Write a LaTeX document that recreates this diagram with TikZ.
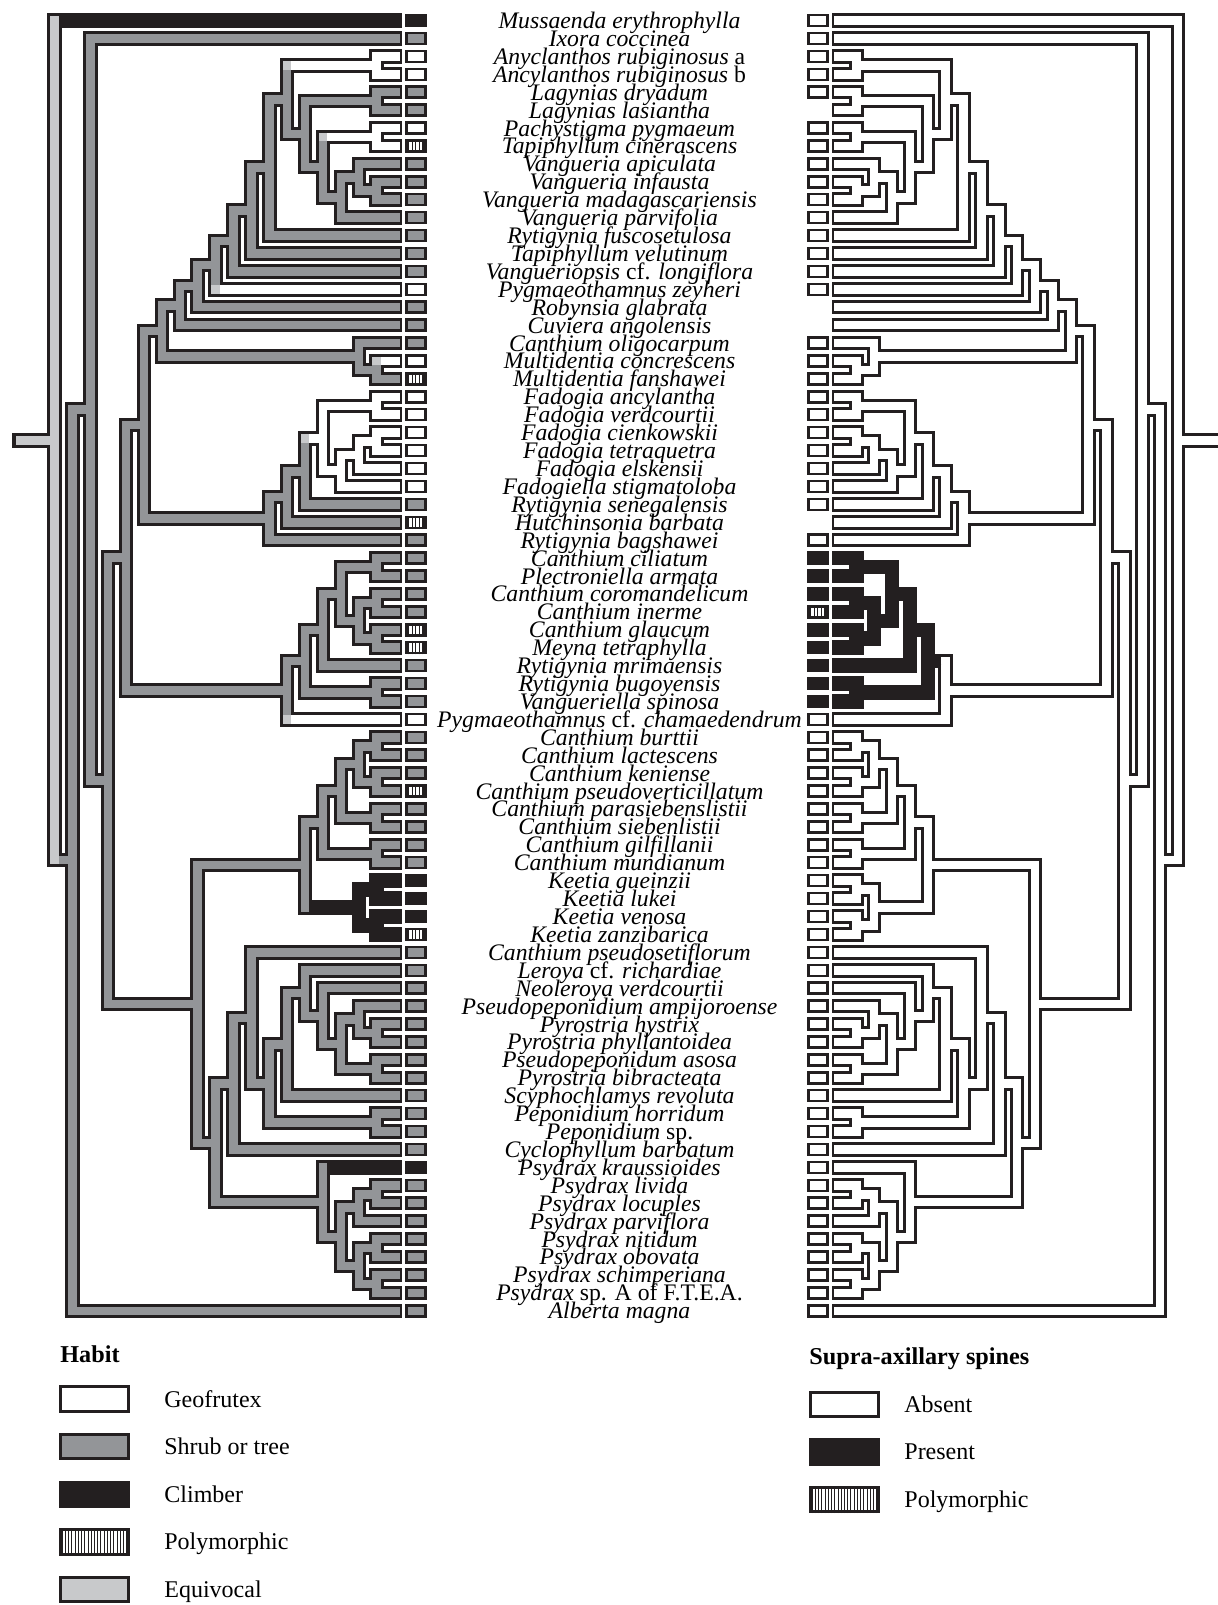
\documentclass[tikz,border=0pt]{standalone}
\usepackage{fontspec}
\setmainfont{Liberation Serif}
\usetikzlibrary{calc}

\definecolor{shrub}{RGB}{147,149,152}
\definecolor{equiv}{RGB}{200,201,203}
\definecolor{climb}{RGB}{35,31,32}

% character state of a branch: habit (left) and spines (right)
\newcommand\lcol[1]{\ifcsname lc@#1\endcsname\csname lc@#1\endcsname\else shrub\fi}
\newcommand\rcol[1]{\ifcsname rc@#1\endcsname\csname rc@#1\endcsname\else white\fi}

% node/level/upper child/lower child, children first
\def\cladelist{c23/18/t2/t3,c45/18/t4/t5,c67/18/t6/t7,c910/18/t9/t10,
  c1920/18/t19/t20,c2122/18/t21/t22,c2324/18/t23/t24,c3031/18/t30/t31,
  c3233/18/t32/t33,c3435/18/t34/t35,c3738/18/t37/t38,c4041/18/t40/t41,
  c4243/18/t42/t43,c4445/18/t44/t45,c4647/18/t46/t47,c4849/18/t48/t49,
  c5051/18/t50/t51,c5657/18/t56/t57,c5859/18/t58/t59,c6162/18/t61/t62,
  c6566/18/t65/t66,c6869/18/t68/t69,c7071/18/t70/t71,
  v17/17/t8/c910,v16/16/v17/t11,v15/15/c67/v16,v14/14/c45/v15,v13/13/c23/v14,
  v12/12/v13/t12,v11/11/v12/t13,v10/10/v11/t14,v9/9/v10/t15,v8/8/v9/t16,
  v7/7/v8/t17,m17/17/t18/c1920,v6/6/v7/m17,
  f17/17/c2324/t25,f16/16/f17/t26,f15/15/c2122/f16,f14/14/f15/t27,
  f13/13/f14/t28,f12/12/f13/t29,v5/5/v6/f12,
  s4/17/c3233/c3435,s3/16/c3031/s4,s2/15/s3/t36,s1/14/s2/c3738,s0/13/s1/t39,
  v4/4/v5/s0,
  c17/17/c4041/c4243,c16/16/c17/c4445,c15/15/c16/c4647,k17/17/c4849/c5051,
  b1/14/c15/k17,
  u17/17/t55/c5657,u16/16/u17/c5859,w15/15/t54/u16,z14/14/t53/w15,
  y13/13/z14/t60,x12/12/y13/c6162,k11/11/t52/x12,k10/10/k11/t63,
  p17a/17/c6566/t67,p17b/17/c6869/c7071,p16/16/p17a/p17b,p15/15/t64/p16,
  b2/9/k10/p15,b/8/b1/b2,v3/3/v4/b,v2/2/t1/v3,v1/1/v2/t72,v0/0/t0/v1}

\tikzset{
  outline/.style={draw=climb,line width=7.25pt,line join=miter},
  vband/.style={line width=4.25pt,line cap=rect},
  hband/.style={line width=4.25pt,shorten <=2.125pt,shorten >=1pt},
  eqpatch/.style={fill=equiv,minimum size=4.25pt,inner sep=0pt,outer sep=0pt},
  tipbox/.style={draw=climb,line width=1.25pt,minimum width=9.5pt,minimum height=5.5pt,inner sep=0pt},
  stripe/.style={draw=climb,line width=0.6pt},
  taxon/.style={font=\fontsize{11.85}{12}\selectfont\itshape,anchor=base,inner sep=0pt},
  head/.style={font=\fontsize{12.1}{13}\selectfont\bfseries,anchor=base west,inner sep=0pt},
  legbox/.style={draw=climb,line width=1.5pt,minimum width=34pt,minimum height=12.25pt,inner sep=0pt},
  legtext/.style={font=\fontsize{12}{14}\selectfont,anchor=base west,inner sep=0pt}
}

\begin{document}
\begin{tikzpicture}[x=0.5pt,y=-0.5pt]
  \useasboundingbox (0,0) rectangle (1217,1605);
  % States that differ from the default
  \foreach \nm in {t0,t48,t49,t50,t51,t64,k17,c4849,c5051}
    {\expandafter\xdef\csname lc@\nm\endcsname{climb}}
  \foreach \nm in {t2,t3,c23,t6,t7,c67,t15,t19,t21,t22,t23,t24,t25,t26,c2122,c2324,f15,f16,f17,t39}
    {\expandafter\xdef\csname lc@\nm\endcsname{white}}
  \expandafter\xdef\csname lc@v0\endcsname{equiv}
  \foreach \nm in {t30,t31,t32,t33,t34,t35,t36,t37,t38,c3031,c3233,c3435,c3738,s1,s2,s3,s4}
    {\expandafter\xdef\csname rc@\nm\endcsname{climb}}
  % Levels and tips
  \foreach \lv in {0,...,18} {
    \coordinate (lk\lv) at ({54.5+17.9*\lv},0);
    \coordinate (rk\lv) at ({1178-17.87*\lv},0);
  }
  \foreach \i in {0,...,72} {
    \coordinate (t\i) at (0,{20.5+17.92*\i});
    \coordinate (Lt\i) at (402,{20.5+17.92*\i});
    \coordinate (Rt\i) at (832,{20.5+17.92*\i});
  }
  % Internal nodes
  \foreach \nd/\lv/\ca/\cb in \cladelist {
    \coordinate (\nd) at ($(\ca)!0.5!(\cb)$);
    \coordinate (L\nd) at (lk\lv |- \nd);
    \coordinate (R\nd) at (rk\lv |- \nd);
  }
  \coordinate (lstub) at ($(Lv0)+(-42.5,0)$);
  \coordinate (rstub) at ($(Rv0)+(45,0)$);
  % Branch outlines
  \foreach \nd/\lv/\ca/\cb in \cladelist {
    \draw[outline] (L\ca) -| (L\nd) |- (L\cb);
    \draw[outline] (R\ca) -| (R\nd) |- (R\cb);
  }
  \draw[outline] (lstub) -- (Lv0);
  \draw[outline] (Rv0) -- (rstub);
  % Branch fills
  \foreach \nd/\lv/\ca/\cb in \cladelist {
    \edef\cn{\lcol{\nd}}\edef\cx{\lcol{\ca}}\edef\cy{\lcol{\cb}}
    \draw[vband,draw=\cn] (L\nd |- L\ca) -- (L\nd |- L\cb);
    \draw[hband,draw=\cx] (L\nd |- L\ca) -- (L\ca);
    \draw[hband,draw=\cy] (L\nd |- L\cb) -- (L\cb);
    \edef\cn{\rcol{\nd}}\edef\cx{\rcol{\ca}}\edef\cy{\rcol{\cb}}
    \draw[vband,draw=\cn] (R\nd |- R\ca) -- (R\nd |- R\cb);
    \draw[hband,draw=\cx] (R\nd |- R\ca) -- (R\ca);
    \draw[hband,draw=\cy] (R\nd |- R\cb) -- (R\cb);
  }
  \draw[hband,draw=equiv] (lstub) -- (Lv0);
  \draw[hband,draw=white] (Rv0) -- (rstub);
  % Equivocal patches
  \foreach \nd/\ch in {v13/c23,v15/c67,v9/t15,c1920/t19,f14/f15,s0/t39}
    \node[eqpatch] (eq\ch) at (L\nd |- L\ch) {};
  % Tip states
  \foreach \i in {0,...,72} {
    \edef\cx{\lcol{t\i}}
    \node[tipbox,fill=\cx] (lb\i) at ($(Lt\i)+(13.75,0)$) {};
    \pgfmathtruncatemacro\nobox{(\i==5)||(\i==16)||(\i==17)||(\i==28)}
    \ifnum\nobox=0
      \edef\cx{\rcol{t\i}}
      \node[tipbox,fill=\cx] (rb\i) at ($(Rt\i)+(-14.25,0)$) {};
    \fi
  }
  \foreach \i/\sd in {7/l,20/l,28/l,34/l,35/l,43/l,51/l,33/r} {
    \node[tipbox,fill=white] (poly\sd\i) at (\sd b\i) {};
    \foreach \s in {1,...,5}
      \draw[stripe] ($(poly\sd\i.south west)!{\s/6}!(poly\sd\i.south east)$)
        -- ($(poly\sd\i.north west)!{\s/6}!(poly\sd\i.north east)$);
  }
  % Taxa
  \foreach \i/\nm in {0/{Mussaenda erythrophylla},1/{Ixora coccinea},
    2/{Anyclanthos rubiginosus {\upshape a}},3/{Ancylanthos rubiginosus {\upshape b}},
    4/{Lagynias dryadum},5/{Lagynias lasiantha},6/{Pachystigma pygmaeum},
    7/{Tapiphyllum cinerascens},8/{Vangueria apiculata},9/{Vangueria infausta},
    10/{Vangueria madagascariensis},11/{Vangueria parvifolia},12/{Rytigynia fuscosetulosa},
    13/{Tapiphyllum velutinum},14/{Vangueriopsis {\upshape cf.} longiflora},
    15/{Pygmaeothamnus zeyheri},16/{Robynsia glabrata},17/{Cuviera angolensis},
    18/{Canthium oligocarpum},19/{Multidentia concrescens},20/{Multidentia fanshawei},
    21/{Fadogia ancylantha},22/{Fadogia verdcourtii},23/{Fadogia cienkowskii},
    24/{Fadogia tetraquetra},25/{Fadogia elskensii},26/{Fadogiella stigmatoloba},
    27/{Rytigynia senegalensis},28/{Hutchinsonia barbata},29/{Rytigynia bagshawei},
    30/{Canthium ciliatum},31/{Plectroniella armata},32/{Canthium coromandelicum},
    33/{Canthium inerme},34/{Canthium glaucum},35/{Meyna tetraphylla},
    36/{Rytigynia mrimaensis},37/{Rytigynia bugoyensis},38/{Vangueriella spinosa},
    39/{Pygmaeothamnus {\upshape cf.} chamaedendrum},40/{Canthium burttii},
    41/{Canthium lactescens},42/{Canthium keniense},43/{Canthium pseudoverticillatum},
    44/{Canthium parasiebenslistii},45/{Canthium siebenlistii},46/{Canthium gilfillanii},
    47/{Canthium mundianum},48/{Keetia gueinzii},49/{Keetia lukei},50/{Keetia venosa},
    51/{Keetia zanzibarica},52/{Canthium pseudosetiflorum},53/{Leroya {\upshape cf.} richardiae},
    54/{Neoleroya verdcourtii},55/{Pseudopeponidium ampijoroense},56/{Pyrostria hystrix},
    57/{Pyrostria phyllantoidea},58/{Pseudopeponidum asosa},59/{Pyrostria bibracteata},
    60/{Scyphochlamys revoluta},61/{Peponidium horridum},62/{Peponidium {\upshape sp.}},
    63/{Cyclophyllum barbatum},64/{Psydrax kraussioides},65/{Psydrax livida},
    66/{Psydrax locuples},67/{Psydrax parviflora},68/{Psydrax nitidum},
    69/{Psydrax obovata},70/{Psydrax schimperiana},71/{Psydrax {\upshape sp. A of F.T.E.A.}},
    72/{Alberta magna}}
    \node[taxon] (tx\i) at ($(t\i)+(619.5,8)$) {\nm};
  % Legend
  \node[head] (habit) at (60,1362) {Habit};
  \foreach \j/\fc/\lab in {0/white/Geofrutex,1/shrub/Shrub or tree,2/climb/Climber,
      3/white/Polymorphic,4/equiv/Equivocal} {
    \node[legbox,fill=\fc] (hb\j) at (94.5,{1399.1+47.6*\j}) {};
    \node[legtext] (ht\j) at (164,{1407.1+47.6*\j}) {\lab};
  }
  \node[head] (spines) at (809,1364) {Supra-axillary spines};
  \foreach \j/\fc/\lab in {0/white/Absent,1/climb/Present,2/white/Polymorphic} {
    \node[legbox,fill=\fc] (sb\j) at (844.5,{1404.3+47.5*\j}) {};
    \node[legtext] (st\j) at (904,{1412.3+47.5*\j}) {\lab};
  }
  \foreach \bx in {hb3,sb2}
    \foreach \s in {1,...,21}
      \draw[stripe,line width=0.5pt] ($(\bx.south west)!{\s/22}!(\bx.south east)$)
        -- ($(\bx.north west)!{\s/22}!(\bx.north east)$);
\end{tikzpicture}
\end{document}
